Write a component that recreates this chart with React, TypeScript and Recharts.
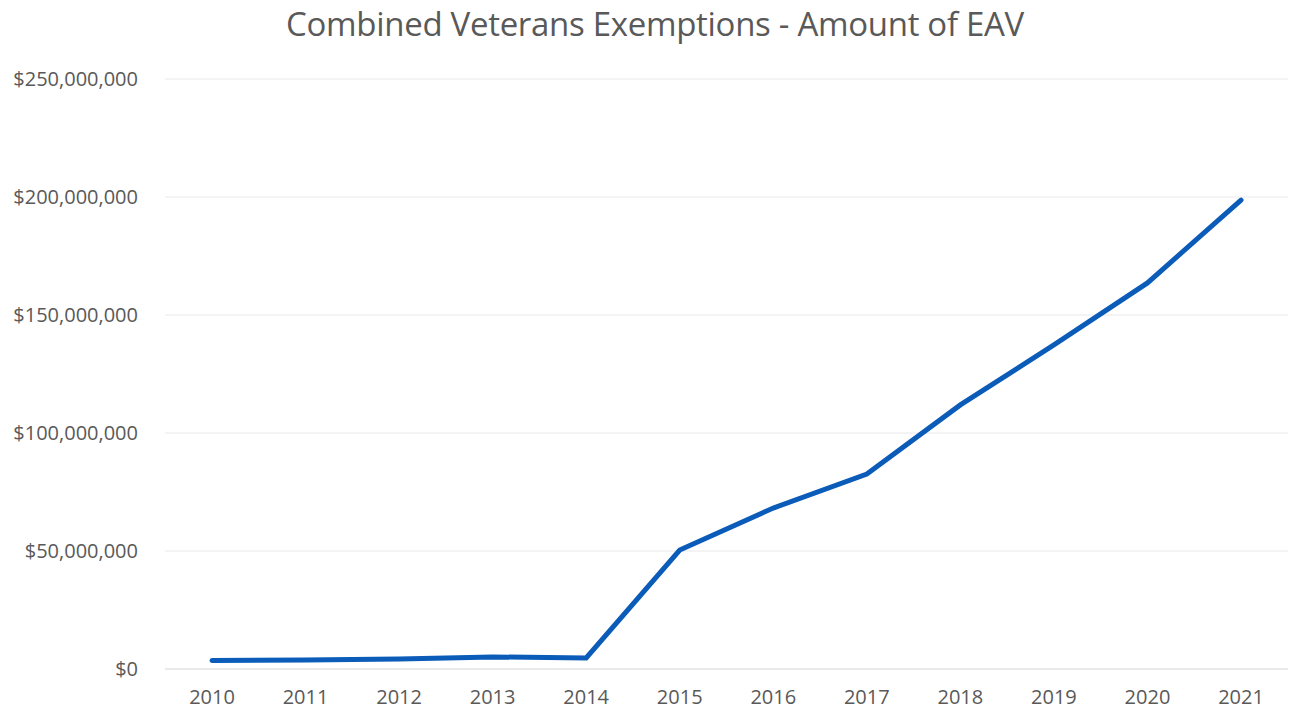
import React from 'react';
import { LineChart, Line, XAxis, YAxis, CartesianGrid } from 'recharts';

const years = ['2010', '2011', '2012', '2013', '2014', '2015', '2016', '2017', '2018', '2019', '2020', '2021'];
const eavAmounts = [3.6, 3.8, 4.2, 5.1, 4.7, 50.4, 68.2, 82.6, 111.9, 137.3, 163.6, 198.7].map(v => v * 1e6);
const yTicks = [0, 50e6, 100e6, 150e6, 200e6, 250e6];

const data = years.map((year, i) => ({ year, amount: eavAmounts[i] }));

const fmtMoney = (v: number) => '$' + v.toLocaleString('en-US');

const FONT = '"Open Sans", "Noto Sans", sans-serif';
const TEXT = '#595959';

export default function App() {
  return (
    <div style={{ position: 'absolute', left: 0, top: 0, width: 1293, height: 711, background: '#fff', fontFamily: FONT }}>
      <div
        style={{
          position: 'absolute',
          top: 1,
          left: 0,
          width: 1310,
          textAlign: 'center',
          fontSize: 33,
          color: TEXT,
          letterSpacing: -0.3,
        }}
      >
        Combined Veterans Exemptions - Amount of EAV
      </div>
      <LineChart width={1293} height={711} data={data} margin={{ top: 79, right: 5, bottom: 0, left: 0 }}>
        <CartesianGrid horizontal vertical={false} stroke="#e8e8e8" />
        <XAxis
          dataKey="year"
          height={42}
          padding={{ left: 47, right: 47 }}
          axisLine={{ stroke: '#e0e0e0' }}
          tickLine={false}
          tickSize={0}
          tickMargin={21}
          tick={{ fill: TEXT, fontSize: 20, fontFamily: FONT }}
        />
        <YAxis
          width={165}
          domain={[0, 250e6]}
          ticks={yTicks}
          tickFormatter={fmtMoney}
          axisLine={false}
          tickLine={false}
          tickSize={0}
          tickMargin={27}
          tick={{ fill: TEXT, fontSize: 20, fontFamily: FONT }}
        />
        <Line
          type="linear"
          dataKey="amount"
          stroke="#0b5bb8"
          strokeWidth={5}
          strokeLinecap="round"
          dot={false}
          activeDot={false}
          isAnimationActive={false}
        />
      </LineChart>
    </div>
  );
}
